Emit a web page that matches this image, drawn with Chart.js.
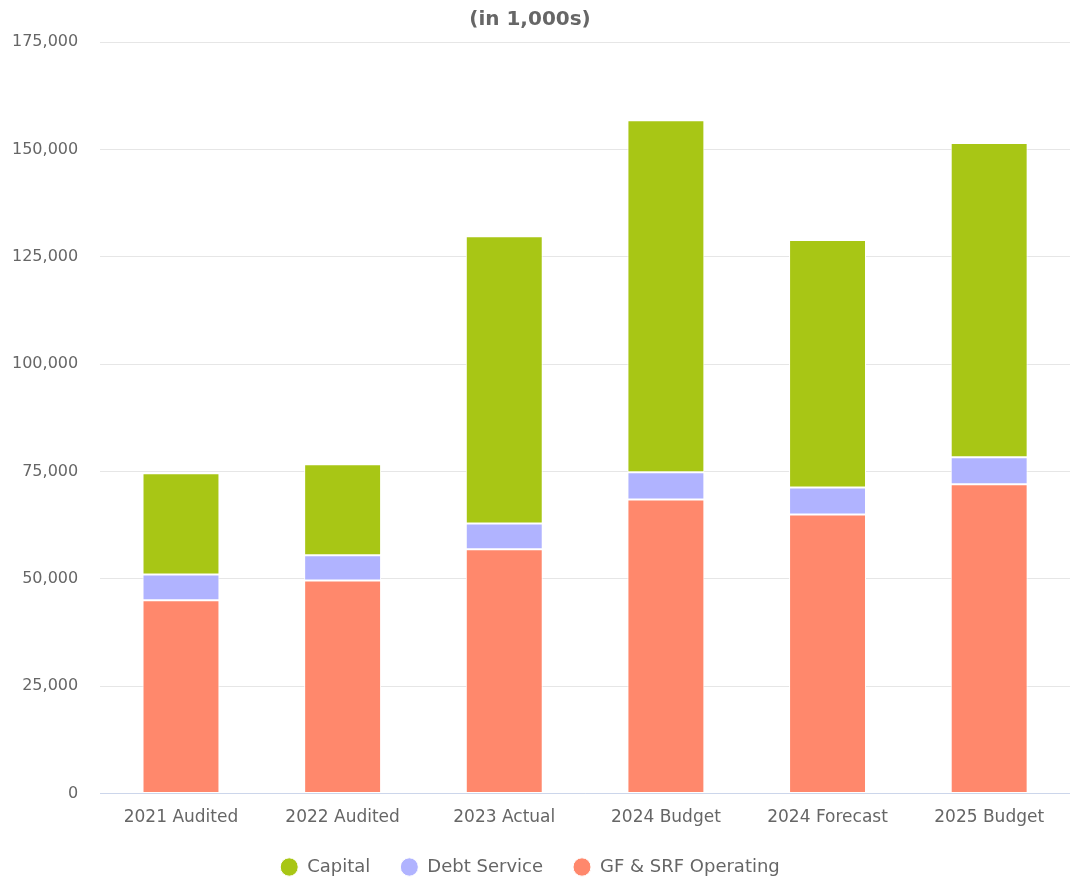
<!DOCTYPE html>
<html>
<head>
<meta charset="utf-8">
<script src="https://cdn.jsdelivr.net/npm/chart.js@4.4.1/dist/chart.umd.min.js"></script>
<style>
  html, body { margin: 0; padding: 0; background: #fff; }
  #wrap { width: 1070px; height: 882px; position: relative; }
</style>
</head>
<body>
<div id="wrap"><canvas id="budgetChart"></canvas></div>
<script>
// values in 1,000s
const categories = ["2021 Audited", "2022 Audited", "2023 Actual", "2024 Budget", "2024 Forecast", "2025 Budget"];
const gfOperating = [45000, 49600, 56900, 68500, 65000, 72000];
const debtService = [6000, 5900, 6000, 6300, 6300, 6300];
const capital = [23600, 21200, 66900, 82000, 57600, 73200];

const textColor = "#666666";
const fontFamily = "'DejaVu Sans', Verdana, sans-serif";

const ctx = document.getElementById("budgetChart").getContext("2d");
const chart = new Chart(ctx, {
  type: "bar",
  data: {
    labels: categories,
    datasets: [
      { label: "GF & SRF Operating", data: gfOperating, backgroundColor: "#ff886c" },
      { label: "Debt Service", data: debtService, backgroundColor: "#b0b3ff" },
      { label: "Capital", data: capital, backgroundColor: "#a8c615" }
    ]
  },
  options: {
    responsive: true,
    maintainAspectRatio: false,
    animation: false,
    layout: { padding: { left: -10, right: 0, top: 6, bottom: -4 } },
    datasets: {
      bar: {
        barPercentage: 0.476,
        categoryPercentage: 1.0,
        borderColor: "#ffffff",
        borderWidth: 1,
        borderSkipped: false
      }
    },
    plugins: {
      title: {
        display: true,
        text: "(in 1,000s)",
        color: textColor,
        font: { family: fontFamily, size: 20, weight: "bold" },
        padding: { top: 2, bottom: 10 }
      },
      legend: {
        position: "bottom",
        reverse: true,
        labels: {
          color: textColor,
          font: { family: fontFamily, size: 18 },
          usePointStyle: true,
          pointStyle: "circle",
          pointStyleWidth: 18,
          boxHeight: 13,
          padding: 30
        }
      },
      tooltip: { enabled: false }
    },
    scales: {
      x: {
        stacked: true,
        grid: { display: false, tickLength: 14 },
        border: { color: "#ccd6eb", width: 1 },
        ticks: { color: textColor, font: { family: fontFamily, size: 17 }, padding: 0 }
      },
      y: {
        stacked: true,
        min: 0,
        max: 175000,
        border: { display: false },
        grid: { color: "#e6e6e6", lineWidth: 1, drawTicks: false },
        ticks: {
          stepSize: 25000,
          color: textColor,
          font: { family: fontFamily, size: 16 },
          padding: 22,
          callback: (v) => v.toLocaleString("en-US")
        }
      }
    }
  }
});
</script>
</body>
</html>
